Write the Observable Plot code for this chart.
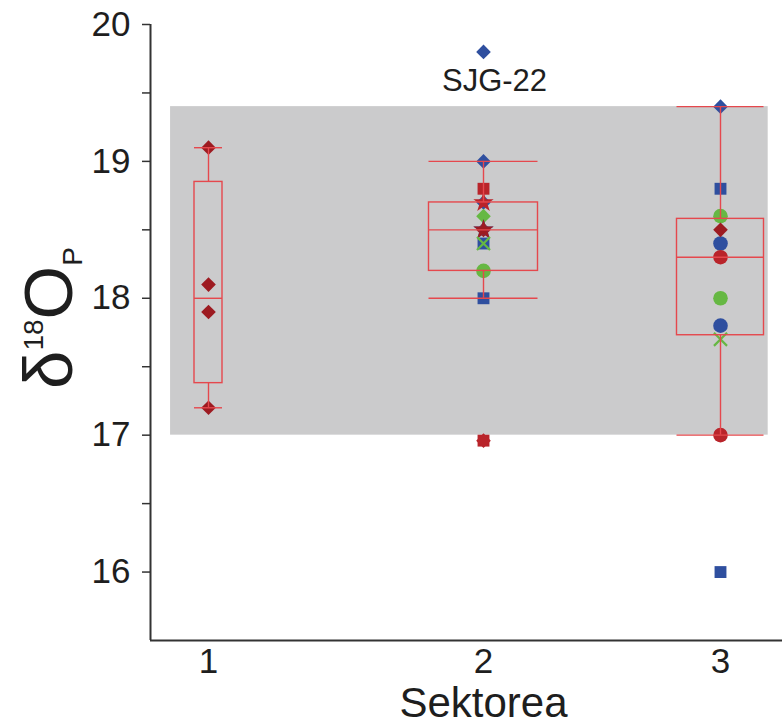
<!DOCTYPE html>
<html>
<head>
<meta charset="utf-8">
<script src="https://cdn.jsdelivr.net/npm/d3@7"></script>
<script src="https://cdn.jsdelivr.net/npm/@observablehq/plot@0.6"></script>
<style>
  html, body { margin: 0; padding: 0; background: #ffffff; }
  svg { display: block; }
</style>
</head>
<body>
<div id="chart"></div>
<script>
// ---- Data ----
const sectors = [1, 2, 3];
const boxQ1 = [17.38, 18.2, 17.73];
const boxMedian = [18.0, 18.5, 18.3];
const boxQ3 = [18.85, 18.7, 18.58];
const whiskerLow = [17.2, 18.0, 17.0];
const whiskerHigh = [19.1, 19.0, 19.4];

// reference range (grey band)
const bandLow = 17.0;
const bandHigh = 19.4;

// individual samples (some positions carry two overlapping symbols)
const pointSector = [1, 1, 1, 1,
  2, 2, 2, 2, 2, 2, 2, 2, 2, 2, 2, 2, 2, 2, 2,
  3, 3, 3, 3, 3, 3, 3, 3, 3, 3, 3];
const pointValue = [19.1, 18.1, 17.9, 17.2,
  19.8, 19.0, 18.8, 18.7, 18.7, 18.6, 18.5, 18.5, 18.4, 18.4, 18.2, 18.0, 16.96, 16.96, 18.5,
  19.4, 18.8, 18.6, 18.5, 18.4, 18.3, 18.0, 17.8, 17.7, 17.0, 16.0];
const pointShape = ["diamond2", "diamond2", "diamond2", "diamond2",
  "diamond2", "diamond2", "square", "star", "diamond2", "diamond2", "star", "diamond2", "square", "times", "circle", "square", "square", "diamond2", "star",
  "diamond2", "square", "circle", "diamond2", "circle", "circle", "circle", "circle", "times", "circle", "square"];
const pointGroup = ["darkred", "darkred", "darkred", "darkred",
  "blue", "blue", "red", "red", "blue", "green", "blue", "darkred", "blue", "green", "green", "blue", "red", "red", "darkred",
  "blue", "blue", "green", "darkred", "blue", "red", "green", "blue", "green", "red", "blue"];

const outlierLabel = "SJG-22";
const outlierSector = 2;
const outlierValue = 19.8;

const yTicks = [16, 17, 18, 19, 20];
const yMinorTicks = [16.5, 17.5, 18.5, 19.5];
const xTitle = "Sektorea";

// ---- Styles ----
const colors = {blue: "#2f4f9f", green: "#66b843", red: "#b9242a", darkred: "#9d1b21"};
const symbolR = {circle: 7.3, square: 6.7, diamond2: 6.6, star: 6.4, times: 6};
const boxHalfWidth = [14, 54.5, 43.5];
const boxColor = "#e5484d";
const font = "'Liberation Sans', Arial, Helvetica, sans-serif";

const points = pointValue.map((v, i) => ({
  sector: pointSector[i], value: v, shape: pointShape[i], group: pointGroup[i]
}));
const filled = points.filter(d => d.shape !== "times");
const strokes = points.filter(d => d.shape === "times");

const xDomain = [0.789, 1, 2, 3, 3.26];
const xRange = [150, 208, 483, 720, 782];
const yDomain = [15.5, 20];

const boxMarks = [];
sectors.forEach((s, i) => {
  const hw = boxHalfWidth[i];
  const row = [{s, q1: boxQ1[i], med: boxMedian[i], q3: boxQ3[i], lo: whiskerLow[i], hi: whiskerHigh[i]}];
  boxMarks.push(
    Plot.ruleX(row, {x: "s", y1: "lo", y2: "q1", stroke: boxColor, strokeWidth: 1.4}),
    Plot.ruleX(row, {x: "s", y1: "q3", y2: "hi", stroke: boxColor, strokeWidth: 1.4}),
    Plot.rect(row, {x1: "s", x2: "s", y1: "q1", y2: "q3", fill: "none", stroke: boxColor, strokeWidth: 1.4, insetLeft: -hw, insetRight: -hw}),
    Plot.ruleY(row, {x1: "s", x2: "s", y: "med", stroke: boxColor, strokeWidth: 1.4, insetLeft: -hw, insetRight: -hw}),
    Plot.ruleY(row, {x1: "s", x2: "s", y: "lo", stroke: boxColor, strokeWidth: 1.4, insetLeft: -hw, insetRight: -hw}),
    Plot.ruleY(row, {x1: "s", x2: "s", y: "hi", stroke: boxColor, strokeWidth: 1.4, insetLeft: -hw, insetRight: -hw})
  );
});

const chart = Plot.plot({
  width: 782,
  height: 727,
  marginLeft: 150,
  marginRight: 0,
  marginTop: 24,
  marginBottom: 87,
  style: {fontFamily: font, color: "#1e1e1e", background: "#ffffff"},
  x: {type: "linear", domain: xDomain, range: xRange},
  y: {domain: yDomain},
  r: {type: "identity"},
  marks: [
    Plot.rect([{x1: 0.862, x2: 3.2, y1: bandLow, y2: bandHigh}], {x1: "x1", x2: "x2", y1: "y1", y2: "y2", fill: "#cbcbcc"}),
    Plot.dot(filled, {x: "sector", y: "value", symbol: "shape", r: d => symbolR[d.shape], fill: d => colors[d.group], stroke: "none"}),
    Plot.dot(strokes, {x: "sector", y: "value", symbol: "times", r: d => symbolR[d.shape], stroke: d => colors[d.group], strokeWidth: 2.2}),
    ...boxMarks,
    Plot.text([outlierLabel], {x: () => outlierSector, y: () => outlierValue, text: d => d, dx: 11, dy: 29, fontSize: 31, fill: "#1e1e1e"}),
    Plot.axisY({ticks: yTicks, tickSize: 8, tickPadding: 12, fontSize: 35, tickFormat: d => String(d), label: null, stroke: "#333", strokeWidth: 1.5}),
    Plot.axisY({ticks: yMinorTicks, tickSize: 8, tickFormat: () => "", label: null, stroke: "#333", strokeWidth: 1.5}),
    Plot.axisX({ticks: sectors, tickSize: 0, tickPadding: 8, fontSize: 35, tickFormat: d => String(d), label: null}),
    Plot.ruleX([xDomain[0]], {stroke: "#333", strokeWidth: 2}),
    Plot.ruleY([yDomain[0]], {stroke: "#333", strokeWidth: 2}),
    Plot.text([xTitle], {x: () => 2, frameAnchor: "bottom", text: d => d, dy: 76, fontSize: 42, fill: "#1e1e1e"})
  ]
});

// y-axis title with superscript and subscript
const svg = d3.select(chart);
const t = svg.append("text")
  .attr("transform", "translate(72,318) rotate(-90)")
  .attr("text-anchor", "middle")
  .attr("fill", "#1e1e1e")
  .style("font-family", font)
  .style("font-size", "69px");
t.append("tspan").text("δ");
t.append("tspan").attr("font-size", "28px").attr("dy", "-29").text("18");
t.append("tspan").attr("dy", "29").text("O");
t.append("tspan").attr("font-size", "28px").attr("dy", "10").text("P");

document.getElementById("chart").appendChild(chart);
</script>
</body>
</html>
